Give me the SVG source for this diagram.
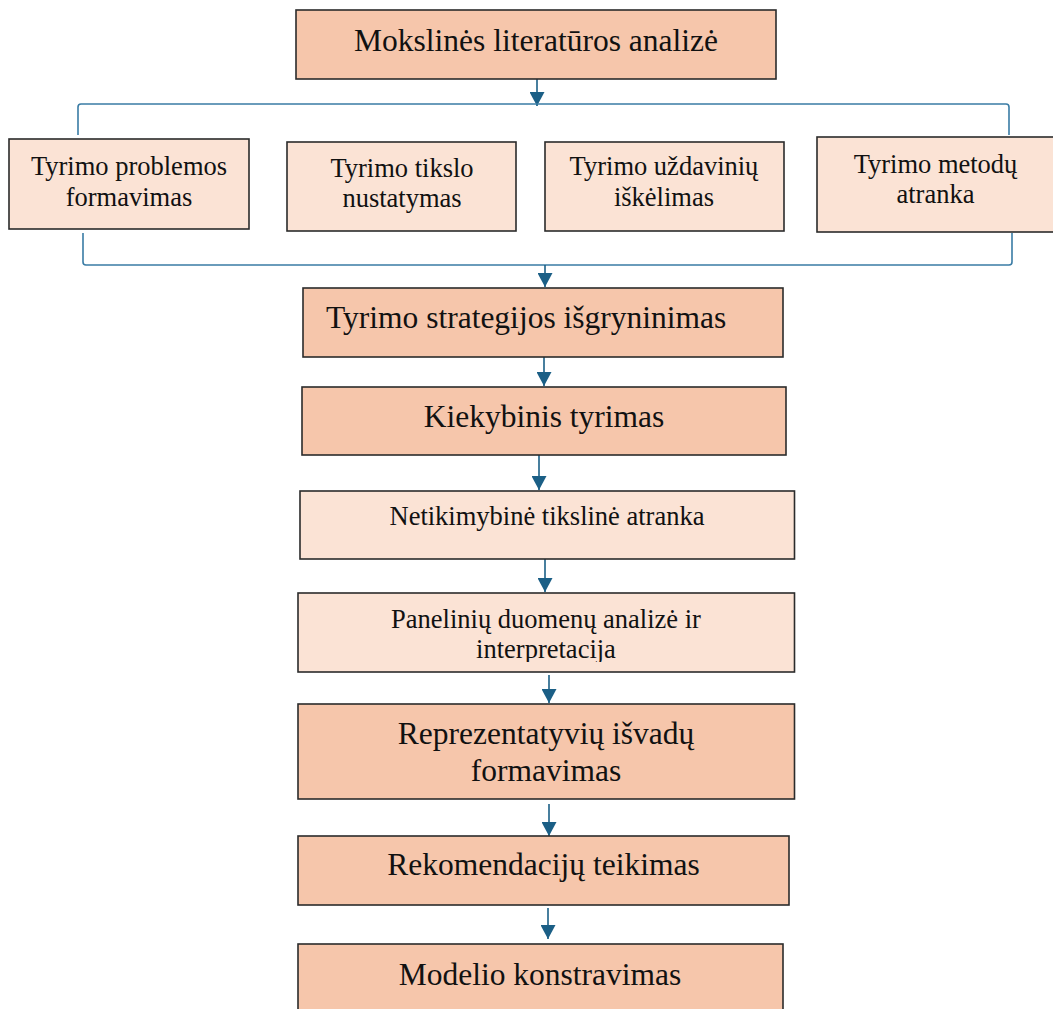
<svg xmlns="http://www.w3.org/2000/svg" width="1053" height="1009" viewBox="0 0 1053 1009">
  <style>
    .dark { fill: #F6C6AB; stroke: #2b2b2b; stroke-width: 1.6; }
    .light { fill: #FBE3D5; stroke: #2b2b2b; stroke-width: 1.6; }
    text { font-family: "Liberation Serif", "Times New Roman", serif; fill: #111; }
    .big { font-size: 31.5px; }
    .small { font-size: 26.5px; }
    .c { text-anchor: middle; }
    .conn { fill: none; stroke: #1B5F86; stroke-width: 1.6; }
    .brace { fill: none; stroke: #3A7CA5; stroke-width: 1.6; }
  </style>
  <defs>
    <marker id="arr" viewBox="0 0 14 15" refX="14" refY="7.5" markerWidth="14" markerHeight="15" markerUnits="userSpaceOnUse" orient="auto">
      <path d="M0,0 L14,7.5 L0,15 Z" fill="#1B5F86"/>
    </marker>
    <clipPath id="clipPanel">
      <rect x="298" y="593" width="497" height="69"/>
    </clipPath>
  </defs>

  <g id="connectors">
    <line class="conn" x1="537" y1="79" x2="537" y2="106" marker-end="url(#arr)"/>
    <path class="brace" d="M78,135 L78,107 Q78,104 81,104 L1006,104 Q1009,104 1009,107 L1009,135"/>
    <path class="brace" d="M83,233 L83,262 Q83,265 86,265 L1009,265 Q1012,265 1012,262 L1012,233"/>
    <line class="conn" x1="545" y1="265" x2="545" y2="287" marker-end="url(#arr)"/>
    <line class="conn" x1="544" y1="357" x2="544" y2="386" marker-end="url(#arr)"/>
    <line class="conn" x1="539" y1="455" x2="539" y2="490" marker-end="url(#arr)"/>
    <line class="conn" x1="545" y1="559" x2="545" y2="592" marker-end="url(#arr)"/>
    <line class="conn" x1="549" y1="675" x2="549" y2="703" marker-end="url(#arr)"/>
    <line class="conn" x1="549" y1="804" x2="549" y2="836" marker-end="url(#arr)"/>
    <line class="conn" x1="548" y1="908" x2="548" y2="939" marker-end="url(#arr)"/>
  </g>

  <g id="node-mokslines">
    <rect class="dark" x="296" y="10" width="480" height="69"/>
    <text class="big c" x="536" y="51">Mokslinės literatūros analizė</text>
  </g>

  <g id="node-problemos">
    <rect class="light" x="9" y="139" width="240" height="90"/>
    <text class="small c" x="129" y="175">Tyrimo problemos</text>
    <text class="small c" x="129" y="206">formavimas</text>
  </g>

  <g id="node-tikslo">
    <rect class="light" x="287" y="142" width="229" height="89"/>
    <text class="small c" x="402" y="177">Tyrimo tikslo</text>
    <text class="small c" x="402" y="207">nustatymas</text>
  </g>

  <g id="node-uzdaviniu">
    <rect class="light" x="545" y="142" width="239" height="89"/>
    <text class="small c" x="664" y="175">Tyrimo uždavinių</text>
    <text class="small c" x="664" y="206">iškėlimas</text>
  </g>

  <g id="node-metodu">
    <rect class="light" x="817" y="137" width="240" height="95"/>
    <text class="small c" x="935.5" y="173">Tyrimo metodų</text>
    <text class="small c" x="935.5" y="203">atranka</text>
  </g>

  <g id="node-strategijos">
    <rect class="dark" x="303" y="288" width="480" height="69"/>
    <text class="big" x="326" y="328">Tyrimo strategijos išgryninimas</text>
  </g>

  <g id="node-kiekybinis">
    <rect class="dark" x="302" y="387" width="484" height="68"/>
    <text class="big c" x="544" y="427">Kiekybinis tyrimas</text>
  </g>

  <g id="node-atranka">
    <rect class="light" x="300" y="491" width="494.5" height="68"/>
    <text class="small c" x="547" y="525">Netikimybinė tikslinė atranka</text>
  </g>

  <g id="node-paneliniu">
    <rect class="light" x="298" y="593" width="496.5" height="79"/>
    <g clip-path="url(#clipPanel)">
      <text class="small c" x="546" y="628">Panelinių duomenų analizė ir</text>
      <text class="small c" x="546" y="658">interpretacija</text>
    </g>
  </g>

  <g id="node-isvadu">
    <rect class="dark" x="298" y="704" width="496.5" height="95"/>
    <text class="big c" x="546" y="744">Reprezentatyvių išvadų</text>
    <text class="big c" x="546" y="781">formavimas</text>
  </g>

  <g id="node-rekomendaciju">
    <rect class="dark" x="298" y="836" width="491" height="69"/>
    <text class="big c" x="543.5" y="875">Rekomendacijų teikimas</text>
  </g>

  <g id="node-modelio">
    <rect class="dark" x="298" y="944" width="485" height="80"/>
    <text class="big c" x="540" y="985">Modelio konstravimas</text>
  </g>
</svg>
